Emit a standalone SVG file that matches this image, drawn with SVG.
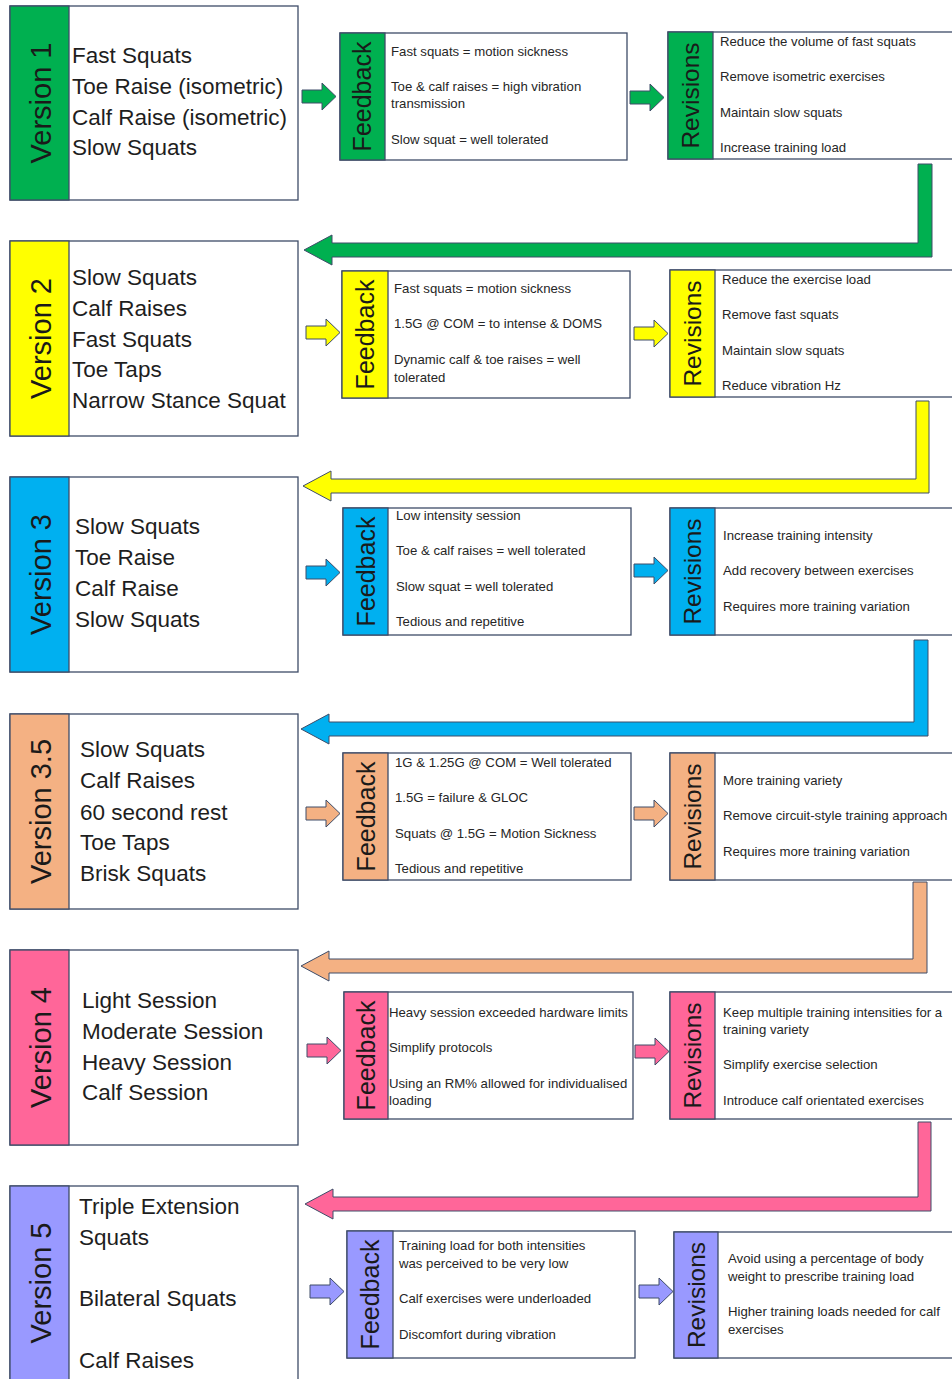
<svg xmlns="http://www.w3.org/2000/svg" width="952" height="1379" viewBox="0 0 952 1379">
<style>
.box{fill:#fff;stroke:#3E4C68;stroke-width:1.3}
.band{stroke:#3E4C68;stroke-width:1.3}
.arr{stroke:#3E4C68;stroke-width:1}
.item{font-family:"Liberation Sans",Arial,sans-serif;font-size:22.5px;fill:#1E1E1E}
.sm{font-family:"Liberation Sans",Arial,sans-serif;font-size:13.2px;fill:#262626}
.ver{font-family:"Liberation Sans",Arial,sans-serif;font-size:29px;fill:#1A1A1A;text-anchor:middle}
.lab{font-family:"Liberation Sans",Arial,sans-serif;font-size:25px;fill:#1A1A1A;text-anchor:middle}
.g{fill:#00B050}.y{fill:#FFFF00}.b{fill:#00B0F0}.o{fill:#F4B183}.p{fill:#FF6699}.v{fill:#9999FF}
</style>
<rect width="952" height="1379" fill="#fff"/>

<!-- Row 1 -->
<g id="version1">
<rect class="box" x="10" y="6" width="288" height="194"/>
<rect class="band g" x="10" y="6" width="59" height="194"/>
<text class="ver" transform="translate(51,103) rotate(-90)">Version 1</text>
<text class="item" x="72" y="63">Fast Squats</text>
<text class="item" x="72" y="94">Toe Raise (isometric)</text>
<text class="item" x="72" y="125">Calf Raise (isometric)</text>
<text class="item" x="72" y="155">Slow Squats</text>
</g>
<g id="feedback1">
<rect class="box" x="340" y="33" width="287" height="127"/>
<rect class="band g" x="340" y="33" width="45" height="127"/>
<text class="lab" transform="translate(371,96.5) rotate(-90)">Feedback</text>
<text class="sm" x="391" y="56">Fast squats = motion sickness</text>
<text class="sm" x="391" y="91">Toe &amp; calf raises = high vibration</text>
<text class="sm" x="391" y="108">transmission</text>
<text class="sm" x="391" y="144">Slow squat = well tolerated</text>
</g>
<g id="revisions1">
<rect class="box" x="668" y="32" width="292" height="127"/>
<rect class="band g" x="668" y="32" width="45" height="127"/>
<text class="lab" transform="translate(699,95.5) rotate(-90)" style="font-size:24.5px">Revisions</text>
<text class="sm" x="720" y="46">Reduce the volume of fast squats</text>
<text class="sm" x="720" y="81">Remove isometric exercises</text>
<text class="sm" x="720" y="117">Maintain slow squats</text>
<text class="sm" x="720" y="152">Increase training load</text>
</g>

<!-- Row 2 -->
<g id="version2">
<rect class="box" x="10" y="241" width="288" height="195"/>
<rect class="band y" x="10" y="241" width="59" height="195"/>
<text class="ver" transform="translate(51,338.5) rotate(-90)">Version 2</text>
<text class="item" x="72" y="285">Slow Squats</text>
<text class="item" x="72" y="316">Calf Raises</text>
<text class="item" x="72" y="347">Fast Squats</text>
<text class="item" x="72" y="377">Toe Taps</text>
<text class="item" x="72" y="408">Narrow Stance Squat</text>
</g>
<g id="feedback2">
<rect class="box" x="342" y="271" width="288" height="127"/>
<rect class="band y" x="342" y="271" width="46" height="127"/>
<text class="lab" transform="translate(374,334.5) rotate(-90)">Feedback</text>
<text class="sm" x="394" y="293">Fast squats = motion sickness</text>
<text class="sm" x="394" y="328">1.5G @ COM = to intense &amp; DOMS</text>
<text class="sm" x="394" y="364">Dynamic calf &amp; toe raises = well</text>
<text class="sm" x="394" y="382">tolerated</text>
</g>
<g id="revisions2">
<rect class="box" x="670" y="270" width="290" height="127"/>
<rect class="band y" x="670" y="270" width="45" height="127"/>
<text class="lab" transform="translate(701,333.5) rotate(-90)" style="font-size:24.5px">Revisions</text>
<text class="sm" x="722" y="284">Reduce the exercise load</text>
<text class="sm" x="722" y="319">Remove fast squats</text>
<text class="sm" x="722" y="355">Maintain slow squats</text>
<text class="sm" x="722" y="390">Reduce vibration Hz</text>
</g>

<!-- Row 3 -->
<g id="version3">
<rect class="box" x="10" y="477" width="288" height="195"/>
<rect class="band b" x="10" y="477" width="59" height="195"/>
<text class="ver" transform="translate(51,574.5) rotate(-90)">Version 3</text>
<text class="item" x="75" y="534">Slow Squats</text>
<text class="item" x="75" y="565">Toe Raise</text>
<text class="item" x="75" y="596">Calf Raise</text>
<text class="item" x="75" y="627">Slow Squats</text>
</g>
<g id="feedback3">
<rect class="box" x="343" y="508" width="288" height="127"/>
<rect class="band b" x="343" y="508" width="45" height="127"/>
<text class="lab" transform="translate(375,571.5) rotate(-90)">Feedback</text>
<text class="sm" x="396" y="520">Low intensity session</text>
<text class="sm" x="396" y="555">Toe &amp; calf raises = well tolerated</text>
<text class="sm" x="396" y="591">Slow squat = well tolerated</text>
<text class="sm" x="396" y="626">Tedious and repetitive</text>
</g>
<g id="revisions3">
<rect class="box" x="670" y="508" width="290" height="127"/>
<rect class="band b" x="670" y="508" width="45" height="127"/>
<text class="lab" transform="translate(701,571.5) rotate(-90)" style="font-size:24.5px">Revisions</text>
<text class="sm" x="723" y="540">Increase training intensity</text>
<text class="sm" x="723" y="575">Add recovery between exercises</text>
<text class="sm" x="723" y="611">Requires more training variation</text>
</g>

<!-- Row 3.5 -->
<g id="version3-5">
<rect class="box" x="10" y="714" width="288" height="195"/>
<rect class="band o" x="10" y="714" width="59" height="195"/>
<text class="ver" transform="translate(51,811.5) rotate(-90)">Version 3.5</text>
<text class="item" x="80" y="757">Slow Squats</text>
<text class="item" x="80" y="788">Calf Raises</text>
<text class="item" x="80" y="820">60 second rest</text>
<text class="item" x="80" y="850">Toe Taps</text>
<text class="item" x="80" y="881">Brisk Squats</text>
</g>
<g id="feedback3-5">
<rect class="box" x="343" y="753" width="288" height="127"/>
<rect class="band o" x="343" y="753" width="45" height="127"/>
<text class="lab" transform="translate(375,816.5) rotate(-90)">Feedback</text>
<text class="sm" x="395" y="767">1G &amp; 1.25G @ COM = Well tolerated</text>
<text class="sm" x="395" y="802">1.5G = failure &amp; GLOC</text>
<text class="sm" x="395" y="838">Squats @ 1.5G = Motion Sickness</text>
<text class="sm" x="395" y="873">Tedious and repetitive</text>
</g>
<g id="revisions3-5">
<rect class="box" x="670" y="753" width="290" height="127"/>
<rect class="band o" x="670" y="753" width="45" height="127"/>
<text class="lab" transform="translate(701,816.5) rotate(-90)" style="font-size:24.5px">Revisions</text>
<text class="sm" x="723" y="785">More training variety</text>
<text class="sm" x="723" y="820">Remove circuit-style training approach</text>
<text class="sm" x="723" y="856">Requires more training variation</text>
</g>

<!-- Row 4 -->
<g id="version4">
<rect class="box" x="10" y="950" width="288" height="195"/>
<rect class="band p" x="10" y="950" width="59" height="195"/>
<text class="ver" transform="translate(51,1047.5) rotate(-90)">Version 4</text>
<text class="item" x="82" y="1008">Light Session</text>
<text class="item" x="82" y="1039">Moderate Session</text>
<text class="item" x="82" y="1070">Heavy Session</text>
<text class="item" x="82" y="1100">Calf Session</text>
</g>
<g id="feedback4">
<rect class="box" x="344" y="992" width="289" height="127"/>
<rect class="band p" x="344" y="992" width="44" height="127"/>
<text class="lab" transform="translate(375,1055.5) rotate(-90)">Feedback</text>
<text class="sm" x="389" y="1017">Heavy session exceeded hardware limits</text>
<text class="sm" x="389" y="1052">Simplify protocols</text>
<text class="sm" x="389" y="1088">Using an RM% allowed for individualised</text>
<text class="sm" x="389" y="1105">loading</text>
</g>
<g id="revisions4">
<rect class="box" x="670" y="992" width="290" height="127"/>
<rect class="band p" x="670" y="992" width="45" height="127"/>
<text class="lab" transform="translate(701,1055.5) rotate(-90)" style="font-size:24.5px">Revisions</text>
<text class="sm" x="723" y="1017">Keep multiple training intensities for a</text>
<text class="sm" x="723" y="1034">training variety</text>
<text class="sm" x="723" y="1069">Simplify exercise selection</text>
<text class="sm" x="723" y="1105">Introduce calf orientated exercises</text>
</g>

<!-- Row 5 -->
<g id="version5">
<rect class="box" x="10" y="1186" width="288" height="200"/>
<rect class="band v" x="10" y="1186" width="59" height="200"/>
<text class="ver" transform="translate(51,1283) rotate(-90)">Version 5</text>
<text class="item" x="79" y="1214">Triple Extension</text>
<text class="item" x="79" y="1245">Squats</text>
<text class="item" x="79" y="1306">Bilateral Squats</text>
<text class="item" x="79" y="1368">Calf Raises</text>
</g>
<g id="feedback5">
<rect class="box" x="347" y="1231" width="288" height="127"/>
<rect class="band v" x="347" y="1231" width="46" height="127"/>
<text class="lab" transform="translate(379,1294.5) rotate(-90)">Feedback</text>
<text class="sm" x="399" y="1250">Training load for both intensities</text>
<text class="sm" x="399" y="1268">was perceived to be very low</text>
<text class="sm" x="399" y="1303">Calf exercises were underloaded</text>
<text class="sm" x="399" y="1339">Discomfort during vibration</text>
</g>
<g id="revisions5">
<rect class="box" x="674" y="1232" width="286" height="126"/>
<rect class="band v" x="674" y="1232" width="44" height="126"/>
<text class="lab" transform="translate(705,1295) rotate(-90)" style="font-size:24.5px">Revisions</text>
<text class="sm" x="728" y="1263">Avoid using a percentage of body</text>
<text class="sm" x="728" y="1281">weight to prescribe training load</text>
<text class="sm" x="728" y="1316">Higher training loads needed for calf</text>
<text class="sm" x="728" y="1334">exercises</text>
</g>

<!-- Connectors -->
<g id="connectors">
<!-- small arrows: version -> feedback -->
<polygon class="arr g" points="302,90 322,90 322,83 336,96.5 322,110 322,103 302,103"/>
<polygon class="arr y" points="306,326 326,326 326,319 340,332.5 326,346 326,339 306,339"/>
<polygon class="arr b" points="306,566 326,566 326,559 340,572.5 326,586 326,579 306,579"/>
<polygon class="arr o" points="306,807 326,807 326,800 340,813.5 326,827 326,820 306,820"/>
<polygon class="arr p" points="307,1044 327,1044 327,1037 341,1050.5 327,1064 327,1057 307,1057"/>
<polygon class="arr v" points="310,1285 330,1285 330,1278 344,1291.5 330,1305 330,1298 310,1298"/>
<!-- small arrows: feedback -> revisions -->
<polygon class="arr g" points="630,91 650,91 650,84 664,97.5 650,111 650,104 630,104"/>
<polygon class="arr y" points="634,327 654,327 654,320 668,333.5 654,347 654,340 634,340"/>
<polygon class="arr b" points="634,564 654,564 654,557 668,570.5 654,584 654,577 634,577"/>
<polygon class="arr o" points="634,807 654,807 654,800 668,813.5 654,827 654,820 634,820"/>
<polygon class="arr p" points="635,1045 655,1045 655,1038 669,1051.5 655,1065 655,1058 635,1058"/>
<polygon class="arr v" points="639,1285 659,1285 659,1278 673,1291.5 659,1305 659,1298 639,1298"/>
<!-- return arrows -->
<polygon class="arr g" points="304,250 332,235 332,243 918,243 918,164 932,164 932,257 332,257 332,265"/>
<polygon class="arr y" points="303,486 331,471 331,479 916,479 916,401 929,401 929,493 331,493 331,501"/>
<polygon class="arr b" points="301,729 329,714 329,722 914,722 914,640 928,640 928,736 329,736 329,744"/>
<polygon class="arr o" points="301,966 329,951 329,959 913,959 913,882 927,882 927,973 329,973 329,981"/>
<polygon class="arr p" points="305,1204 333,1189 333,1197 918,1197 918,1122 931,1122 931,1211 333,1211 333,1219"/>
</g>
</svg>
